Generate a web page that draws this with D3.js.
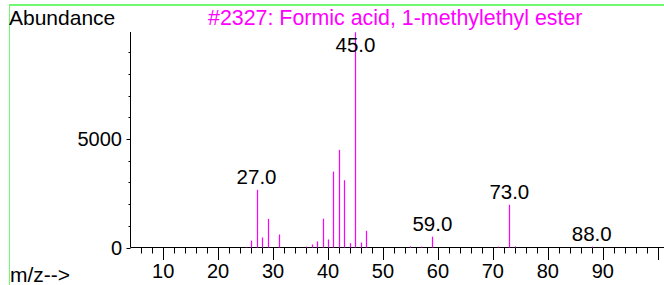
<!DOCTYPE html>
<html>
<head>
<meta charset="utf-8">
<script src="https://cdn.jsdelivr.net/npm/d3@7"></script>
<style>
  html, body { margin: 0; padding: 0; background: #fff; }
  svg { display: block; font-family: "Liberation Sans", Arial, sans-serif; }
</style>
</head>
<body>
<div id="chart"></div>
<script>
// spectrum peaks (m/z and abundance)
const mzValues = [25, 26, 27, 28, 29, 31, 36, 37, 38, 39, 40, 41, 42, 43, 44, 45, 46, 47, 55, 57, 59, 71, 73, 74, 88]
const abundances = [30, 320, 2660, 460, 1320, 600, 40, 140, 280, 1330, 370, 3500, 4500, 3100, 200, 9920, 230, 770, 50, 40, 500, 40, 1970, 50, 40]
const labelledPeaks = [27, 45, 59, 73, 88]
const xTickLabels = [10, 20, 30, 40, 50, 60, 70, 80, 90]
const yTickLabels = [0, 5000]
const title = '#2327: Formic acid, 1-methylethyl ester'

const width = 664
const height = 285

const svg = d3.select('#chart').append('svg').attr('width', width).attr('height', height)

// green frame (top and left edges visible)
svg.append('line').attr('x1', 9).attr('x2', width).attr('y1', 5).attr('y2', 5)
  .attr('stroke', '#70f870').attr('stroke-width', 2)
svg.append('line').attr('x1', 9.5).attr('x2', 9.5).attr('y1', 4).attr('y2', height)
  .attr('stroke', '#70f870').attr('stroke-width', 1)

const xscale = d3.scaleLinear().domain([0, 100]).range([108.2, 657.7])
const yscale = d3.scaleLinear().domain([0, 9920]).range([247.5, 32.3])
const x0 = 130.5

// axis lines
svg.append('line').attr('x1', x0).attr('x2', width).attr('y1', 247.5).attr('y2', 247.5)
  .attr('stroke', '#000').attr('stroke-width', 1)
svg.append('line').attr('x1', x0).attr('x2', x0).attr('y1', 32).attr('y2', 247.5)
  .attr('stroke', '#000').attr('stroke-width', 1)

// x ticks: minor every 2, major every 10
const minorX = d3.range(6, 100, 2).filter(v => v % 10 !== 0)
const majorX = d3.range(10, 101, 10)
svg.selectAll('.xminor').data(minorX).enter().append('line')
  .attr('x1', d => Math.round(xscale(d)) + 0.5).attr('x2', d => Math.round(xscale(d)) + 0.5)
  .attr('y1', 247.5).attr('y2', 253.5).attr('stroke', '#000')
svg.selectAll('.xmajor').data(majorX).enter().append('line')
  .attr('x1', d => Math.round(xscale(d)) + 0.5).attr('x2', d => Math.round(xscale(d)) + 0.5)
  .attr('y1', 247.5).attr('y2', 260).attr('stroke', '#000')
svg.selectAll('.xlabel').data(xTickLabels).enter().append('text')
  .attr('x', d => xscale(d)).attr('y', 278)
  .attr('text-anchor', 'middle').attr('font-size', 20).text(d => d)

// y ticks
const minorY = [1000, 2000, 3000, 4000, 6000, 7000, 8000, 9000]
svg.selectAll('.yminor').data(minorY).enter().append('line')
  .attr('x1', x0 - 2).attr('x2', x0)
  .attr('y1', d => Math.round(yscale(d)) + 0.5).attr('y2', d => Math.round(yscale(d)) + 0.5)
  .attr('stroke', '#000')
svg.selectAll('.ymajor').data(yTickLabels).enter().append('line')
  .attr('x1', x0 - 4).attr('x2', x0)
  .attr('y1', d => Math.round(yscale(d)) + 0.5).attr('y2', d => Math.round(yscale(d)) + 0.5)
  .attr('stroke', '#000')
svg.selectAll('.ylabel').data(yTickLabels).enter().append('text')
  .attr('x', 122).attr('y', d => yscale(d) + 7)
  .attr('text-anchor', 'end').attr('font-size', 20).text(d => d)

// peaks
const peaks = mzValues.map((m, i) => ({mz: m, ab: abundances[i]}))
svg.selectAll('.peak').data(peaks).enter().append('line')
  .attr('x1', d => Math.round(xscale(d.mz)) + 0.5).attr('x2', d => Math.round(xscale(d.mz)) + 0.5)
  .attr('y1', 247.5).attr('y2', d => yscale(d.ab))
  .attr('stroke', '#ff00ff').attr('stroke-width', 1.2)

// peak labels
svg.selectAll('.plabel').data(peaks.filter(d => labelledPeaks.includes(d.mz))).enter().append('text')
  .attr('x', d => xscale(d.mz)).attr('y', d => Math.max(yscale(d.ab) - 6, 52))
  .attr('text-anchor', 'middle').attr('font-size', 20.5).attr('fill', '#000')
  .text(d => d.mz.toFixed(1))

// texts
svg.append('text').attr('x', 9).attr('y', 25).attr('font-size', 21).text('Abundance')
svg.append('text').attr('x', 208).attr('y', 25).attr('font-size', 21.4).attr('fill', '#ff00ff').text(title)
svg.append('text').attr('x', 10).attr('y', 282).attr('font-size', 21).text('m/z-->')
</script>
</body>
</html>
